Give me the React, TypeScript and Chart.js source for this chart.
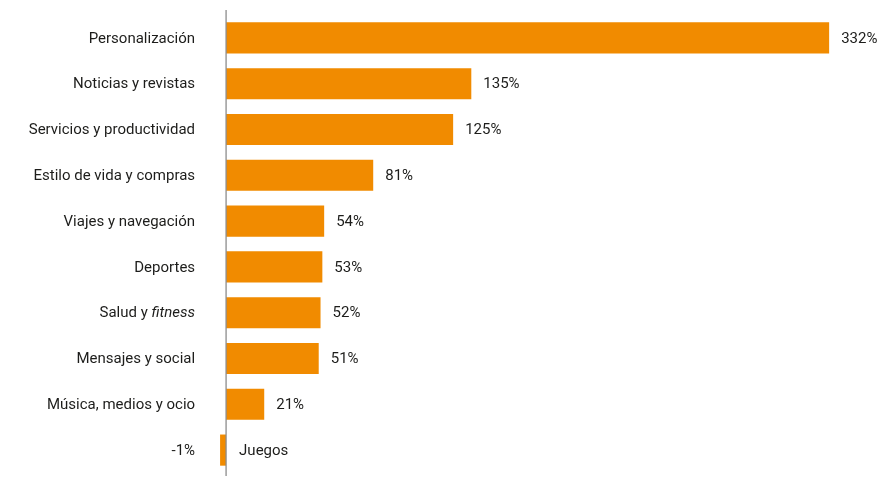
import { useEffect, useRef } from 'react';
import { Chart, registerables } from 'chart.js';

Chart.register(...registerables);

// App categories and year-on-year growth (%)
const categories = [
  'Personalización',
  'Noticias y revistas',
  'Servicios y productividad',
  'Estilo de vida y compras',
  'Viajes y navegación',
  'Deportes',
  'Salud y fitness',
  'Mensajes y social',
  'Música, medios y ocio',
  'Juegos',
];
const growth = [332, 135, 125, 81, 54, 53, 52, 51, 21, -1];
// Loan words set in italics inside the category names
const italicTerms = ['fitness'];
const valueSuffix = '%';

const FONT_FAMILY = 'Roboto, "Noto Sans", sans-serif';
const FONT_SIZE = 15;
const TEXT_COLOR = '#1d1d1b';
const BAR_COLOR = '#F18B00';
const AXIS_COLOR = '#8c8c8c';

type Run = { text: string; italic: boolean };

function splitRuns(label: string): Run[] {
  const runs: Run[] = [];
  let rest = label;
  while (rest.length) {
    let hit = -1;
    let term = '';
    for (const t of italicTerms) {
      const idx = rest.indexOf(t);
      if (idx >= 0 && (hit < 0 || idx < hit)) {
        hit = idx;
        term = t;
      }
    }
    if (hit < 0) {
      runs.push({ text: rest, italic: false });
      break;
    }
    if (hit > 0) runs.push({ text: rest.slice(0, hit), italic: false });
    runs.push({ text: term, italic: true });
    rest = rest.slice(hit + term.length);
  }
  return runs;
}

function fontFor(italic: boolean) {
  return `${italic ? 'italic ' : ''}${FONT_SIZE}px ${FONT_FAMILY}`;
}

function drawRich(ctx: CanvasRenderingContext2D, label: string, x: number, y: number, align: 'left' | 'right') {
  const runs = splitRuns(label);
  const widths = runs.map((r) => {
    ctx.font = fontFor(r.italic);
    return ctx.measureText(r.text).width;
  });
  const total = widths.reduce((a, b) => a + b, 0);
  let cx = align === 'right' ? x - total : x;
  ctx.textAlign = 'left';
  runs.forEach((r, i) => {
    ctx.font = fontFor(r.italic);
    ctx.fillText(r.text, cx, y);
    cx += widths[i];
  });
}

const labelPlugin = {
  id: 'barLabels',
  afterDatasetsDraw(chart: any) {
    const { ctx, chartArea, scales } = chart;
    const xs = scales.x;
    const ys = scales.y;
    const zero = xs.getPixelForValue(0);

    ctx.save();
    // vertical baseline at zero
    ctx.strokeStyle = AXIS_COLOR;
    ctx.lineWidth = 1.3;
    ctx.beginPath();
    ctx.moveTo(zero, chartArea.top - 5);
    ctx.lineTo(zero, chartArea.bottom + 3);
    ctx.stroke();

    ctx.fillStyle = TEXT_COLOR;
    ctx.textBaseline = 'middle';
    const labelRight = zero - 31;
    categories.forEach((cat, i) => {
      const v = growth[i];
      const cy = ys.getPixelForValue(i) + 1;
      const valueText = `${v}${valueSuffix}`;
      if (v >= 0) {
        drawRich(ctx, cat, labelRight, cy, 'right');
        ctx.font = fontFor(false);
        ctx.textAlign = 'left';
        ctx.fillText(valueText, xs.getPixelForValue(v) + 12, cy);
      } else {
        ctx.font = fontFor(false);
        ctx.textAlign = 'right';
        ctx.fillText(valueText, labelRight, cy);
        drawRich(ctx, cat, zero + 13, cy, 'left');
      }
    });
    ctx.restore();
  },
};

export default function App() {
  const canvasRef = useRef<HTMLCanvasElement | null>(null);

  useEffect(() => {
    const canvas = canvasRef.current;
    if (!canvas) return;
    const chart = new Chart(canvas, {
      type: 'bar',
      data: {
        labels: categories,
        datasets: [
          {
            data: growth,
            backgroundColor: BAR_COLOR,
            borderWidth: 0,
            categoryPercentage: 1,
            barPercentage: 0.68,
            minBarLength: 6,
          },
        ],
      },
      options: {
        indexAxis: 'y',
        animation: false,
        responsive: true,
        maintainAspectRatio: false,
        layout: { padding: { left: 217, right: 3, top: 15, bottom: 5 } },
        plugins: {
          legend: { display: false },
          tooltip: { enabled: false },
        },
        scales: {
          x: { display: false, min: -5, max: 360 },
          y: { display: false },
        },
      },
      plugins: [labelPlugin],
    });
    return () => chart.destroy();
  }, []);

  return (
    <div style={{ position: 'fixed', left: 0, top: 0, width: 883, height: 478, background: '#fff' }}>
      <canvas ref={canvasRef} />
    </div>
  );
}
